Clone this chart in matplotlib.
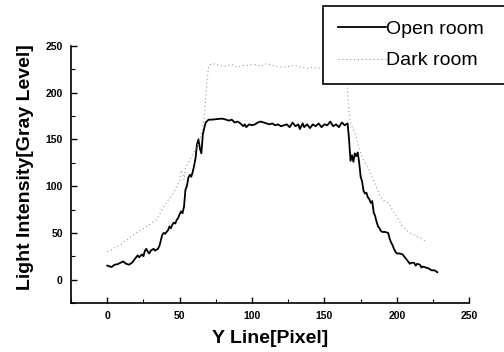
import matplotlib.pyplot as plt
from matplotlib.ticker import MultipleLocator

plt.rcParams['font.family'] = ['Liberation Sans', 'DejaVu Sans']

# Open room profile
open_x = [0, 2, 3, 5, 7, 9, 11, 13, 15, 17, 19, 21, 22, 24, 25, 26, 27, 28, 29, 30,
          32, 33, 35, 36, 38, 39, 40, 42, 43, 44, 45, 46, 47, 48, 49, 50, 51, 52, 53, 54,
          55, 56, 57, 58, 59, 60, 61, 62, 63, 64, 65, 66, 67, 68, 70, 72, 75, 78, 80, 82,
          84, 86, 88, 90, 92, 94, 95, 96, 98, 100, 102, 104, 106, 108, 110, 112, 114, 116, 118, 120,
          122, 124, 126, 128, 130, 132, 133, 135, 136, 138, 140, 142, 144, 146, 148, 150, 152, 154, 156, 158,
          160, 162, 164, 166, 167, 168, 169, 170, 171, 172, 173, 174, 175, 176, 177, 178, 179, 180, 181, 182,
          183, 184, 185, 186, 187, 188, 189, 190, 192, 194, 195, 196, 197, 198, 199, 200, 202, 204, 205, 206,
          207, 208, 209, 210, 212, 213, 214, 216, 217, 218, 220, 222, 224, 226, 228]
open_y = [15, 14, 13.5, 16, 16.5, 18, 19.5, 17, 16, 18, 22, 26, 24, 27, 25, 31, 33, 30, 28, 31,
          33, 31, 33, 36, 48, 50, 49, 53, 57, 55, 59, 61, 60, 64, 66, 70, 73, 71, 78, 96,
          100, 109, 112, 110, 115, 122, 130, 145, 150, 140, 135, 155, 162, 168, 171, 171, 171.5, 172, 172, 171,
          170, 171, 168, 169, 167, 164, 166, 163, 166, 165, 166, 168, 169, 168, 167, 166, 167, 165, 166, 164,
          165, 166, 163, 168, 164, 166, 161, 167, 163, 166, 162, 166, 164, 167, 163, 166, 165, 169, 164, 166,
          163, 168, 165, 167, 150, 127, 133, 126, 135, 132, 136, 125, 110, 105, 95, 92, 93, 88, 86, 82,
          84, 72, 68, 62, 57, 55, 52, 51, 51, 50, 44, 40, 37, 33, 30, 28, 28, 27, 25, 23,
          21, 19, 17, 18, 18, 15, 17, 16, 13, 14, 13, 12, 10, 10, 8]

# Dark room profile
dark_x = [0, 2, 4, 6, 8, 10, 12, 14, 16, 18, 20, 22, 24, 26, 28, 30, 32, 34, 36, 38,
          40, 42, 44, 46, 48, 50, 51, 52, 53, 54, 56, 58, 60, 62, 64, 65, 66, 67, 68, 69,
          70, 72, 75, 78, 82, 86, 90, 94, 98, 102, 106, 110, 114, 118, 122, 126, 130, 134, 138, 142,
          146, 150, 155, 160, 165, 167, 168, 170, 172, 174, 176, 178, 180, 182, 184, 186, 188, 190, 192, 194,
          196, 198, 200, 202, 204, 206, 208, 210, 212, 214, 216, 218, 220]
dark_y = [30, 31, 33, 35, 36, 38, 41, 43, 46, 48, 50, 52, 53, 56, 57, 60, 62, 64, 69, 76,
          80, 85, 89, 93, 100, 105, 117, 114, 107, 120, 125, 131, 137, 143, 150, 157, 162, 175, 195, 213,
          228, 231, 230, 229, 228, 230, 227, 229, 229, 230, 228, 231, 229, 228, 227, 228, 229, 227, 226, 227,
          226, 228, 227, 226, 225, 178, 168, 160, 153, 140, 132, 125, 121, 112, 106, 99, 91, 85, 84, 82,
          77, 72, 67, 62, 57, 54, 51, 49, 48, 46, 45, 43, 41]

fig = plt.figure(figsize=(5.04, 3.52), dpi=100)
ax = fig.add_axes([0.141, 0.139, 0.790, 0.731])

ax.plot(open_x, open_y, color='black', lw=1.3, label='Open room')
ax.plot(dark_x, dark_y, color='#9a9a9a', lw=0.8, linestyle=(0, (1, 2.5)), label='Dark room')

ax.set_xlim(-25, 250)
ax.set_ylim(-25, 250)
ax.xaxis.set_major_locator(MultipleLocator(50))
ax.xaxis.set_minor_locator(MultipleLocator(25))
ax.yaxis.set_major_locator(MultipleLocator(50))
ax.yaxis.set_minor_locator(MultipleLocator(25))

for s in ['top', 'right']:
    ax.spines[s].set_visible(False)
for s in ['left', 'bottom']:
    ax.spines[s].set_linewidth(1.2)

ax.tick_params(which='major', direction='in', length=4, width=1, labelsize=7.5, pad=6)
ax.tick_params(which='minor', direction='in', length=3, width=0.8)
for lbl in ax.get_xticklabels() + ax.get_yticklabels():
    lbl.set_fontweight('bold')

ax.set_xlabel('Y Line[Pixel]', fontsize=14, fontweight='bold', labelpad=6)
ax.set_ylabel('Light Intensity[Gray Level]', fontsize=14, fontweight='bold')
ax.yaxis.set_label_coords(-0.093, 0.53)

# legend box runs past the right edge of the figure, as in the scan
leg = fig.legend(loc='upper left', bbox_to_anchor=(0.641, 0.763, 0.40, 0.22), mode='expand',
                 fontsize=14, frameon=True, fancybox=False, handlelength=2.5, handletextpad=0.0,
                 borderpad=0.75, labelspacing=0.7, borderaxespad=0)
leg.get_frame().set_edgecolor('black')
leg.get_frame().set_linewidth(1.2)
leg.get_frame().set_alpha(1)

fig.savefig('out.png', dpi=100)
